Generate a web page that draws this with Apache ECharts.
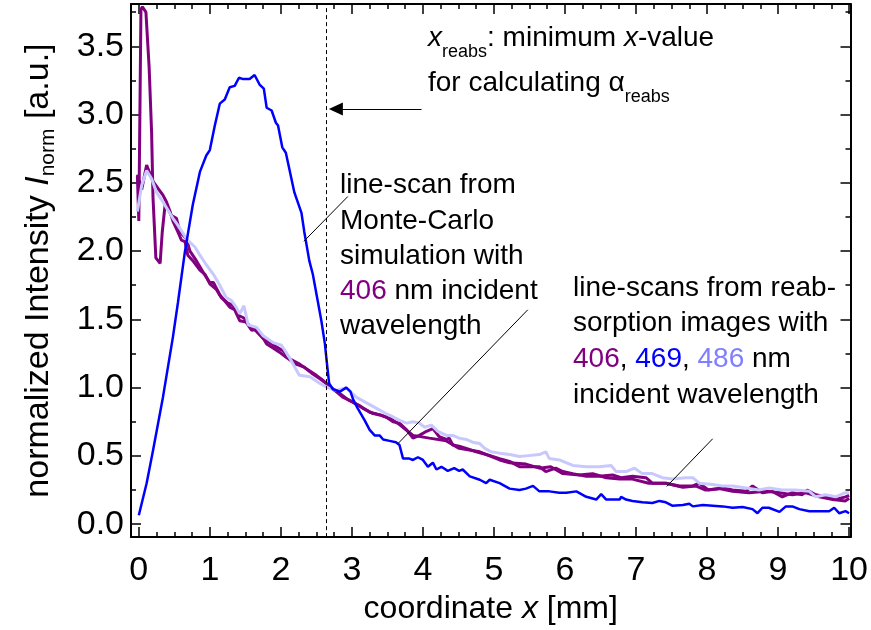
<!DOCTYPE html>
<html><head><meta charset="utf-8">
<script src="https://cdn.jsdelivr.net/npm/echarts@6/dist/echarts.min.js"></script>
<style>html,body{margin:0;padding:0;background:#fff}#c{width:871px;height:630px}</style>
</head><body><div id="c"></div>
<script>
// ---- axis ticks / labels ----
const xTicks = [0,1,2,3,4,5,6,7,8,9,10];
const xMinorTicks = [0.25,0.5,0.75,1.25,1.5,1.75,2.25,2.5,2.75,3.25,3.5,3.75,4.25,4.5,4.75,5.25,5.5,5.75,6.25,6.5,6.75,7.25,7.5,7.75,8.25,8.5,8.75,9.25,9.5,9.75];
const yTicks = [0,0.5,1,1.5,2,2.5,3,3.5];
const yMinorTicks = [0.25,0.75,1.25,1.75,2.25,2.75,3.25,3.75];

// ---- series values [x (mm), normalized intensity] ----
const scan406a = [[-0.02,2.55],[0.0,2.22],[0.03,3.77],[0.05,3.79],[0.1,3.75],[0.145,3.35],[0.18,2.87],[0.2,2.39],[0.24,1.95],[0.3,1.91],[0.33,2.14],[0.37,2.34],[0.41,2.31],[0.46,2.26],[0.53,2.24],[0.58,2.14],[0.67,2.09],[0.72,2.0],[0.81,1.93],[0.9,1.85],[1.0,1.77],[1.05,1.77],[1.14,1.68],[1.28,1.59],[1.35,1.57],[1.42,1.49],[1.51,1.48],[1.59,1.42],[1.66,1.43],[1.73,1.38],[1.8,1.32],[1.89,1.29],[1.98,1.26],[2.08,1.22],[2.22,1.17],[2.33,1.15],[2.45,1.1],[2.55,1.065],[2.64,1.03],[2.76,0.98],[2.87,0.93],[3.01,0.895],[3.15,0.85],[3.3,0.81],[3.39,0.8],[3.48,0.785],[3.58,0.75],[3.67,0.74],[3.77,0.69],[3.86,0.63],[3.95,0.65],[4.05,0.68],[4.14,0.7],[4.23,0.64],[4.33,0.62],[4.37,0.63],[4.42,0.58],[4.51,0.57],[4.61,0.555],[4.75,0.53],[4.89,0.51],[5.08,0.48],[5.22,0.46],[5.36,0.42],[5.5,0.42],[5.64,0.42],[5.73,0.385],[5.87,0.41],[5.97,0.385],[6.11,0.37],[6.3,0.35],[6.48,0.35],[6.67,0.36],[6.79,0.34],[6.95,0.35],[7.14,0.34],[7.23,0.3],[7.42,0.3],[7.61,0.28],[7.8,0.28],[7.89,0.3],[8.02,0.25],[8.22,0.265],[8.36,0.25],[8.55,0.24],[8.64,0.28],[8.78,0.23],[8.92,0.24],[9.06,0.2],[9.2,0.23],[9.34,0.215],[9.41,0.25],[9.53,0.215],[9.67,0.2],[9.81,0.18],[9.95,0.2],[10.0,0.21]];
const scan406b = [[-0.02,2.56],[0.04,2.45],[0.11,2.63],[0.2,2.51],[0.27,2.46],[0.34,2.41],[0.39,2.36],[0.44,2.29],[0.48,2.22],[0.55,2.14],[0.6,2.08],[0.65,2.07],[0.69,1.97],[0.76,1.93],[0.86,1.86],[0.93,1.83],[1.0,1.76],[1.09,1.72],[1.16,1.66],[1.25,1.62],[1.33,1.6],[1.4,1.53],[1.48,1.51],[1.56,1.45],[1.66,1.41],[1.75,1.36],[1.84,1.33],[1.93,1.3],[2.03,1.27],[2.13,1.21],[2.27,1.17],[2.38,1.13],[2.5,1.09],[2.6,1.05],[2.7,1.0],[2.82,0.96],[2.95,0.91],[3.1,0.87],[3.25,0.82],[3.4,0.8],[3.55,0.77],[3.67,0.73],[3.86,0.65],[4.09,0.63],[4.33,0.61],[4.51,0.555],[4.8,0.53],[5.08,0.47],[5.22,0.45],[5.45,0.44],[5.64,0.41],[5.8,0.42],[5.97,0.37],[6.2,0.36],[6.39,0.37],[6.58,0.34],[6.77,0.33],[6.95,0.33],[7.18,0.3],[7.42,0.3],[7.66,0.27],[7.84,0.28],[7.98,0.25],[8.17,0.26],[8.36,0.24],[8.59,0.23],[8.83,0.24],[9.02,0.23],[9.2,0.215],[9.39,0.23],[9.58,0.2],[9.77,0.18],[9.95,0.17],[10.0,0.19]];
const scan486 = [[-0.02,2.29],[0.04,2.48],[0.11,2.59],[0.18,2.53],[0.25,2.43],[0.34,2.36],[0.41,2.3],[0.48,2.24],[0.55,2.19],[0.67,2.09],[0.79,2.03],[0.86,1.97],[0.95,1.9],[1.05,1.83],[1.14,1.75],[1.23,1.66],[1.3,1.64],[1.37,1.59],[1.42,1.54],[1.48,1.6],[1.54,1.46],[1.66,1.44],[1.75,1.38],[1.89,1.33],[2.01,1.31],[2.12,1.22],[2.26,1.09],[2.41,1.08],[2.55,1.03],[2.66,1.0],[2.78,0.98],[2.92,1.0],[3.06,0.93],[3.2,0.89],[3.34,0.85],[3.48,0.81],[3.58,0.785],[3.67,0.76],[3.77,0.74],[3.86,0.75],[3.95,0.74],[4.02,0.71],[4.12,0.725],[4.21,0.68],[4.33,0.65],[4.42,0.65],[4.51,0.63],[4.61,0.62],[4.7,0.6],[4.8,0.59],[4.87,0.555],[4.96,0.53],[5.08,0.52],[5.22,0.51],[5.36,0.495],[5.45,0.5],[5.64,0.51],[5.73,0.53],[5.78,0.48],[5.92,0.47],[6.11,0.43],[6.3,0.42],[6.48,0.42],[6.65,0.43],[6.72,0.385],[6.86,0.385],[6.98,0.41],[7.09,0.37],[7.23,0.37],[7.37,0.34],[7.51,0.33],[7.7,0.34],[7.8,0.34],[7.89,0.3],[8.08,0.29],[8.22,0.28],[8.36,0.28],[8.55,0.265],[8.73,0.25],[8.87,0.265],[9.06,0.25],[9.25,0.25],[9.44,0.24],[9.53,0.2],[9.67,0.215],[9.81,0.2],[9.95,0.23],[10.0,0.23]];
const scanBlue = [[0.0,0.065],[0.11,0.3],[0.2,0.54],[0.34,0.93],[0.48,1.37],[0.55,1.62],[0.65,2.0],[0.76,2.34],[0.86,2.58],[0.95,2.7],[1.0,2.74],[1.07,2.92],[1.14,3.08],[1.21,3.11],[1.28,3.2],[1.35,3.21],[1.41,3.27],[1.47,3.26],[1.56,3.26],[1.63,3.29],[1.7,3.22],[1.76,3.19],[1.8,3.05],[1.87,3.03],[1.93,2.94],[1.96,2.92],[2.02,2.76],[2.07,2.72],[2.12,2.6],[2.19,2.43],[2.29,2.28],[2.33,2.14],[2.4,1.93],[2.45,1.83],[2.51,1.66],[2.57,1.49],[2.62,1.32],[2.65,1.17],[2.68,1.03],[2.73,0.99],[2.83,0.97],[2.92,1.0],[2.98,0.97],[3.02,0.91],[3.08,0.85],[3.18,0.76],[3.25,0.69],[3.32,0.65],[3.39,0.65],[3.44,0.62],[3.53,0.61],[3.62,0.6],[3.67,0.58],[3.72,0.48],[3.81,0.48],[3.86,0.47],[3.93,0.49],[4.0,0.47],[4.07,0.42],[4.14,0.45],[4.19,0.4],[4.26,0.42],[4.35,0.39],[4.44,0.41],[4.51,0.39],[4.56,0.4],[4.66,0.35],[4.8,0.325],[4.89,0.3],[4.94,0.325],[5.08,0.3],[5.22,0.26],[5.36,0.25],[5.45,0.26],[5.55,0.28],[5.64,0.24],[5.78,0.24],[5.92,0.23],[6.02,0.23],[6.16,0.24],[6.3,0.2],[6.44,0.18],[6.51,0.22],[6.58,0.18],[6.77,0.18],[6.79,0.2],[6.86,0.18],[6.95,0.17],[7.09,0.16],[7.23,0.155],[7.33,0.17],[7.42,0.16],[7.51,0.135],[7.66,0.14],[7.75,0.15],[7.8,0.13],[7.94,0.14],[8.08,0.135],[8.22,0.13],[8.36,0.12],[8.5,0.125],[8.64,0.11],[8.71,0.08],[8.78,0.12],[8.87,0.12],[9.02,0.09],[9.11,0.13],[9.2,0.13],[9.3,0.11],[9.44,0.095],[9.58,0.095],[9.72,0.095],[9.79,0.12],[9.86,0.08],[9.95,0.095],[10.0,0.08]];

// ---- annotation anchors (data coordinates) ----
const xReabs = 2.644;
const arrowLine = [[3.98,3.04],[2.774,3.04]];
const leaderSim = [[2.943,2.40],[2.324,2.072]];
const leaderScan1 = [[5.476,1.57],[3.647,0.589]];
const leaderScan2 = [[8.079,0.625],[7.432,0.276]];

const X_RANGE = [-0.11, 10.02];
const Y_RANGE = [-0.095, 3.81];
const FONT = 'Liberation Sans, Arial, sans-serif';
const C406 = '#800080', C469 = '#0000ff', C486t = '#8080ff', C486 = '#c8c8ff';

function xAx(pos, ticks, len, showLine, labels) {
  return {
    type: 'value', position: pos, min: X_RANGE[0], max: X_RANGE[1],
    axisLine: {show: showLine, onZero: false, lineStyle: {color: '#000', width: 2}},
    axisTick: {show: true, inside: true, length: len, customValues: ticks, lineStyle: {color: '#000', width: 1.5}},
    axisLabel: labels ? {show: true, customValues: xTicks, color: '#000', fontFamily: FONT, fontSize: 34, margin: 17, formatter: v => String(v)} : {show: false},
    splitLine: {show: false}
  };
}
function yAx(pos, ticks, len, showLine, labels) {
  return {
    type: 'value', position: pos, min: Y_RANGE[0], max: Y_RANGE[1],
    axisLine: {show: showLine, onZero: false, lineStyle: {color: '#000', width: 2}},
    axisTick: {show: true, inside: true, length: len, customValues: ticks, lineStyle: {color: '#000', width: 1.5}},
    axisLabel: labels ? {show: true, customValues: yTicks, color: '#000', fontFamily: FONT, fontSize: 34, margin: 7, formatter: v => v.toFixed(1)} : {show: false},
    splitLine: {show: false}
  };
}

const xAxes = [xAx('bottom', xTicks, 10, true, true), xAx('bottom', xMinorTicks, 5, false, false), xAx('top', xTicks, 10, true, false), xAx('top', xMinorTicks, 5, false, false)];
xAxes[0].name = 'coordinate {i|x} [mm]';
xAxes[0].nameLocation = 'middle';
xAxes[0].nameGap = 52;
xAxes[0].nameTextStyle = {color: '#000', fontFamily: FONT, fontSize: 32, rich: {i: {fontStyle: 'italic', fontFamily: FONT, fontSize: 32, color: '#000'}}};
const yAxes = [yAx('left', yTicks, 10, true, true), yAx('left', yMinorTicks, 5, false, false), yAx('right', yTicks, 10, true, false), yAx('right', yMinorTicks, 5, false, false)];
yAxes[0].name = 'normalized Intensity {i|I}{sub|norm} [a.u.]';
yAxes[0].nameLocation = 'middle';
yAxes[0].nameGap = 72;
yAxes[0].nameTextStyle = {color: '#000', fontFamily: FONT, fontSize: 34, lineHeight: 40, rich: {
  i: {fontStyle: 'italic', fontFamily: FONT, fontSize: 34, color: '#000', lineHeight: 40},
  sub: {fontFamily: FONT, fontSize: 21, color: '#000', verticalAlign: 'bottom', lineHeight: 19}
}};

function lineSeries(data, color, width) {
  return {type: 'line', data: data, xAxisIndex: 0, yAxisIndex: 0, showSymbol: false, symbol: 'none',
    lineStyle: {color: color, width: width}, itemStyle: {color: color}, animation: false, silent: true, z: 3};
}
const sBlue = lineSeries(scanBlue, C469, 2.5);
sBlue.markLine = {
  silent: true, animation: false, symbol: 'none', label: {show: false},
  lineStyle: {color: '#000', width: 1, type: 'solid'},
  data: [
    [{xAxis: xReabs, yAxis: Y_RANGE[0], lineStyle: {type: [4, 3], width: 1}}, {xAxis: xReabs, yAxis: Y_RANGE[1]}],
    [{coord: arrowLine[0], symbol: 'none'}, {coord: arrowLine[1], symbol: 'triangle', symbolSize: [13, 14]}],
    [{coord: leaderSim[0]}, {coord: leaderSim[1]}],
    [{coord: leaderScan1[0]}, {coord: leaderScan1[1]}],
    [{coord: leaderScan2[0]}, {coord: leaderScan2[1]}]
  ]
};

const FS = 28;
const rich = {
  p: {fill: C406, fontSize: FS, fontFamily: FONT},
  b: {fill: C469, fontSize: FS, fontFamily: FONT},
  l: {fill: C486t, fontSize: FS, fontFamily: FONT},
  i: {fontStyle: 'italic', fontSize: FS, fontFamily: FONT, fill: '#000'},
  sub: {fontSize: 18, fontFamily: FONT, fill: '#000', verticalAlign: 'bottom', lineHeight: 18}
};

const option = {
  backgroundColor: '#fff',
  animation: false,
  grid: {left: 131, right: 20, top: 4, bottom: 89, containLabel: false},
  xAxis: xAxes,
  yAxis: yAxes,
  series: [lineSeries(scan406b, C406, 3), lineSeries(scan406a, C406, 3), lineSeries(scan486, C486, 3), sBlue],
  graphic: [
    {type: 'text', x: 428, y: 16, silent: true, style: {
      text: '{i|x}{sub|reabs}: minimum {i|x}-value\nfor calculating α{sub|reabs}',
      fontSize: FS, fontFamily: FONT, fill: '#000', lineHeight: 45, verticalAlign: 'top', rich: rich}},
    {type: 'text', x: 340, y: 168, silent: true, style: {
      text: 'line-scan from\nMonte-Carlo\nsimulation with\n{p|406} nm incident\nwavelength',
      fontSize: FS, fontFamily: FONT, fill: '#000', lineHeight: 35.2, verticalAlign: 'top', rich: rich}},
    {type: 'text', x: 573, y: 270, silent: true, style: {
      text: 'line-scans from reab-\nsorption images with\n{p|406}, {b|469}, {l|486} nm\nincident wavelength',
      fontSize: FS, fontFamily: FONT, fill: '#000', lineHeight: 35.7, verticalAlign: 'top', rich: rich}}
  ]
};
const chart = echarts.init(document.getElementById('c'), null, {renderer: 'canvas'});
chart.setOption(option);
</script>
</body></html>
